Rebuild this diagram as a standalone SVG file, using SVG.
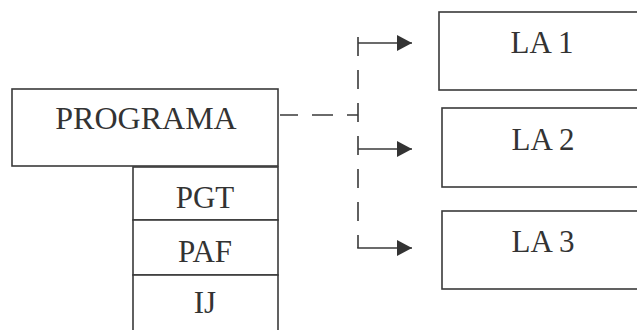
<svg xmlns="http://www.w3.org/2000/svg" width="637" height="330" viewBox="0 0 637 330">
<defs>
<style>
.box{fill:#fff;stroke:#3a3a3a;stroke-width:1.6}
.t{font-family:"Liberation Serif","Times New Roman",serif;font-size:31px;fill:#333;text-anchor:middle}
.c{fill:none;stroke:#3a3a3a;stroke-width:1.6}
</style>
<marker id="ah" markerWidth="16" markerHeight="16" refX="15" refY="8" orient="auto" markerUnits="userSpaceOnUse">
<path d="M0,0 L15,8 L0,16 Z" fill="#333"/>
</marker>
</defs>
<rect width="637" height="330" fill="#fff"/>
<g id="programa"><rect class="box" x="12" y="89" width="266" height="77"/><text class="t" x="146" y="129" style="font-size:32px">PROGRAMA</text></g>
<g id="pgt"><rect class="box" x="133" y="167" width="145" height="53"/><text class="t" x="205" y="208">PGT</text></g>
<g id="paf"><rect class="box" x="133" y="220" width="145" height="55"/><text class="t" x="205" y="262">PAF</text></g>
<g id="ij"><rect class="box" x="133" y="275" width="145" height="60"/><text class="t" x="205" y="313">IJ</text></g>
<g id="la1"><rect class="box" x="439" y="12" width="210" height="78"/><text class="t" x="542" y="53">LA 1</text></g>
<g id="la2"><rect class="box" x="442" y="108" width="207" height="79"/><text class="t" x="543" y="150">LA 2</text></g>
<g id="la3"><rect class="box" x="442" y="211" width="207" height="78"/><text class="t" x="543" y="252">LA 3</text></g>
<g id="connectors">
<line class="c" x1="280" y1="115" x2="358" y2="115" stroke-dasharray="18 14 21 14 11"/>
<line class="c" x1="358" y1="37" x2="358" y2="248" stroke-dasharray="19 14"/>
<line class="c" x1="358" y1="43" x2="412" y2="43" marker-end="url(#ah)"/>
<line class="c" x1="358" y1="149" x2="412" y2="149" marker-end="url(#ah)"/>
<line class="c" x1="357.2" y1="248" x2="412" y2="248" marker-end="url(#ah)"/>
</g>
</svg>
